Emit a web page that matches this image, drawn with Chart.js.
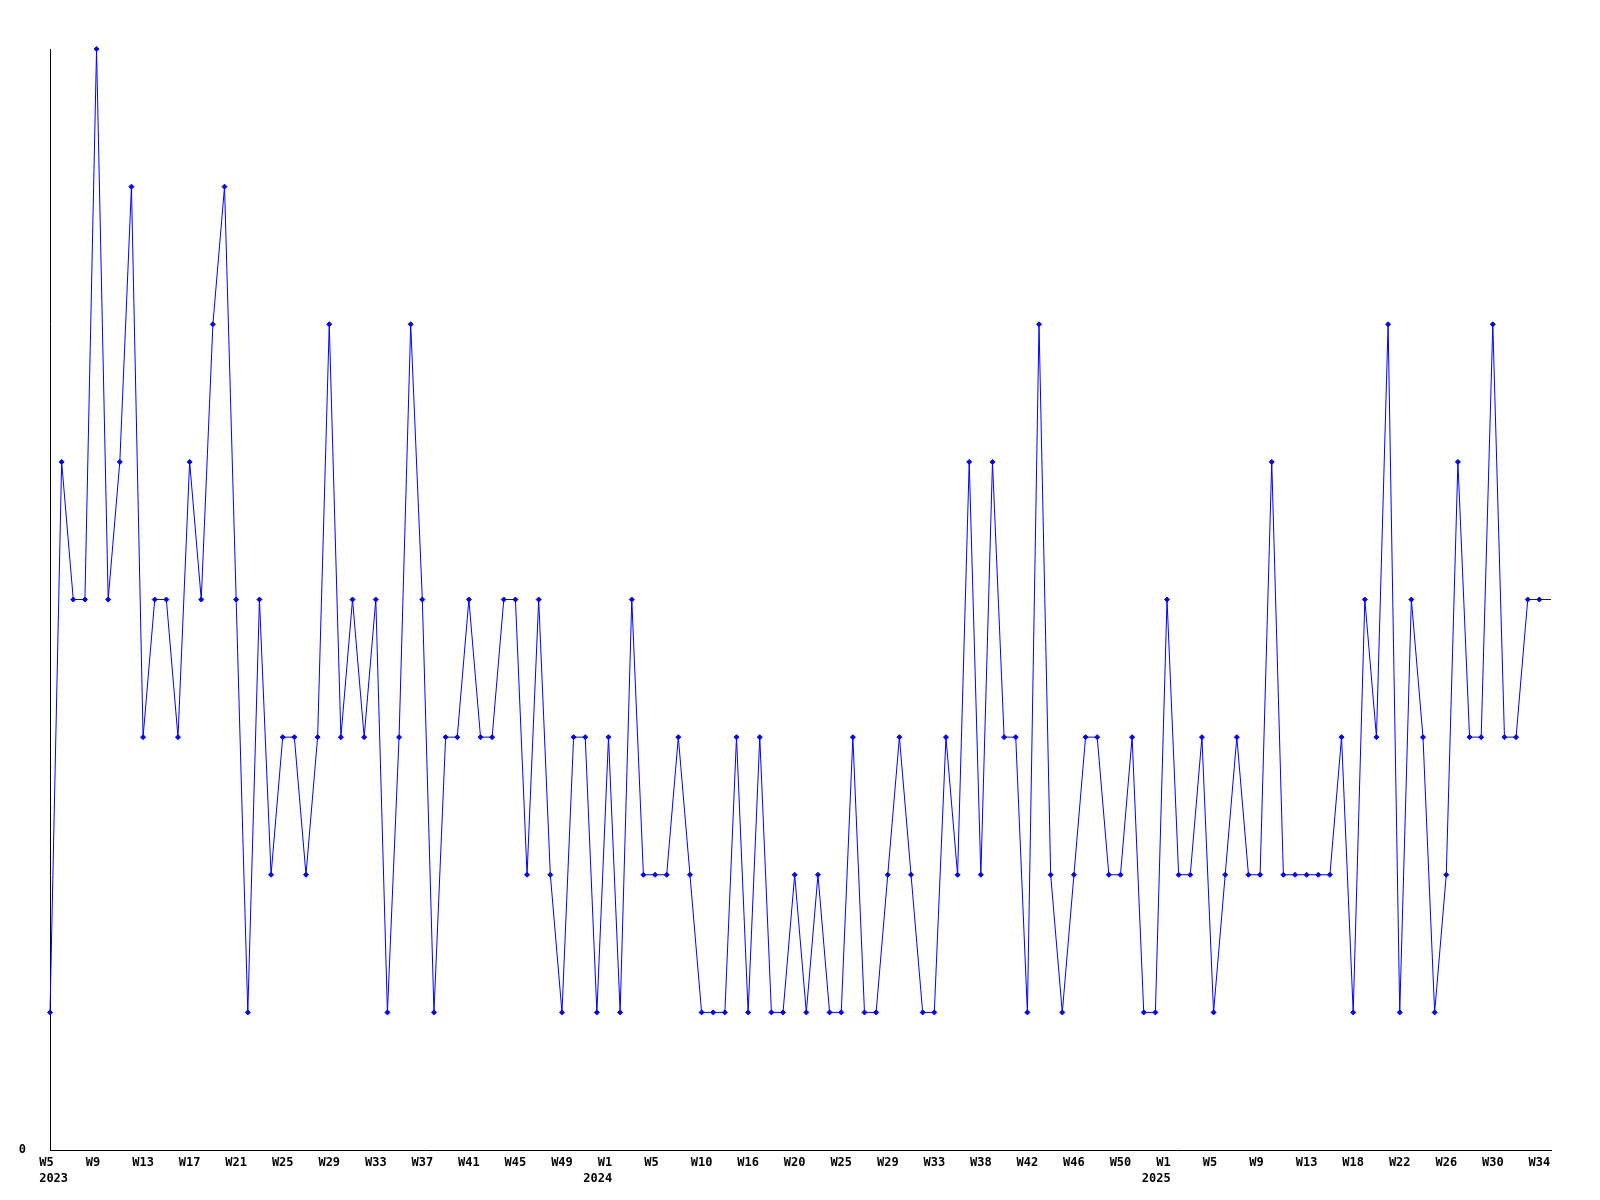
<!DOCTYPE html>
<html>
<head>
<meta charset="utf-8">
<script src="https://cdn.jsdelivr.net/npm/chart.js@4.4.1/dist/chart.umd.min.js"></script>
<style>
  html, body { margin: 0; padding: 0; background: #ffffff; }
  #wrap { width: 1600px; height: 1200px; }
</style>
</head>
<body>
<div id="wrap"><canvas id="c" width="1600" height="1200"></canvas></div>
<script>
// Week numbers for each data point, per year
const weeks2023 = [5,6,7,8,9,10,11,12,13,14,15,16,17,18,19,20,21,22,23,24,25,26,27,28,29,30,31,32,33,34,35,36,37,38,39,40,41,42,43,44,45,46,47,48,49,50,51,52];
const weeks2024 = [1,2,3,4,5,6,7,8,10,11,13,15,16,17,18,19,20,21,22,23,25,26,27,28,29,30,31,32,33,34,35,37,38,39,40,41,42,43,44,45,46,47,48,49,50,51,52,53];
const weeks2025 = [1,2,3,4,5,6,7,8,9,10,11,12,13,14,15,17,18,19,20,21,22,23,24,25,26,27,28,29,30,31,32,33,34,35];

// Series values (one per week)
const values = [
  1,5,4,4,8,4,5,7,3,4,4,3,5,4,6,7,4,1,4,2,3,3,2,3,6,3,
  4,3,4,1,3,6,4,1,3,3,4,3,3,4,4,2,4,2,1,3,3,1,3,1,4,2,
  2,2,3,2,1,1,1,3,1,3,1,1,2,1,2,1,1,3,1,1,2,3,2,1,1,3,
  2,5,2,5,3,3,1,6,2,1,2,3,3,2,2,3,1,1,4,2,2,3,1,2,3,2,
  2,5,2,2,2,2,2,3,1,4,3,6,1,4,3,1,2,5,3,3,6,3,3,4,4,4
];

// Y tick labels shown
const yTickLabels = { 0: '0' };

const categories = [];
const yearOf = [];
weeks2023.forEach(w => { categories.push('W' + w); yearOf.push(2023); });
weeks2024.forEach(w => { categories.push('W' + w); yearOf.push(2024); });
weeks2025.forEach(w => { categories.push('W' + w); yearOf.push(2025); });

const tickFont = { family: '"DejaVu Sans Mono", "Liberation Mono", monospace', size: 12, weight: 'bold', lineHeight: 1.3 };

// labels are left-anchored in the original: pad short ones so centring matches
function padLabel(s) { return s.length < 3 ? s + ' ' : s; }

new Chart(document.getElementById('c'), {
  type: 'line',
  data: {
    labels: categories,
    datasets: [{
      data: values,
      borderColor: '#0000ff',
      backgroundColor: '#0000ff',
      borderWidth: 1,
      tension: 0,
      fill: false,
      clip: false,
      pointStyle: 'rectRot',
      pointRadius: ctx => (ctx.dataIndex === values.length - 1 ? 0 : 2.5),
      pointBorderWidth: 1,
      pointBackgroundColor: '#0000ff',
      pointBorderColor: '#0000ff'
    }]
  },
  options: {
    responsive: false,
    animation: false,
    layout: { padding: { top: 49, right: 49, left: 0, bottom: 0 } },
    plugins: { legend: { display: false }, tooltip: { enabled: false }, title: { display: false } },
    scales: {
      x: {
        type: 'category',
        offset: false,
        grid: { display: false, drawTicks: false },
        border: { display: true, color: '#000000', width: 1 },
        ticks: {
          autoSkip: false,
          maxRotation: 0,
          minRotation: 0,
          padding: 5,
          color: '#000000',
          font: tickFont,
          callback: function(val, idx) {
            if (idx % 4 !== 0) return '';
            const lab = padLabel(categories[idx]);
            if (idx === 0) return [lab, ' ' + yearOf[idx]];
            if (yearOf[idx] !== yearOf[idx - 4]) return [lab, yearOf[idx] + '   '];
            return lab;
          }
        },
        afterFit: s => { s.height = 50; }
      },
      y: {
        min: 0,
        max: 8,
        grid: { display: false, drawTicks: false },
        border: { display: true, color: '#000000', width: 1 },
        ticks: {
          stepSize: 1,
          padding: 24,
          color: '#000000',
          font: tickFont,
          callback: v => (yTickLabels[v] !== undefined ? yTickLabels[v] : '')
        },
        afterFit: s => { s.width = 50; }
      }
    }
  }
});
</script>
</body>
</html>
